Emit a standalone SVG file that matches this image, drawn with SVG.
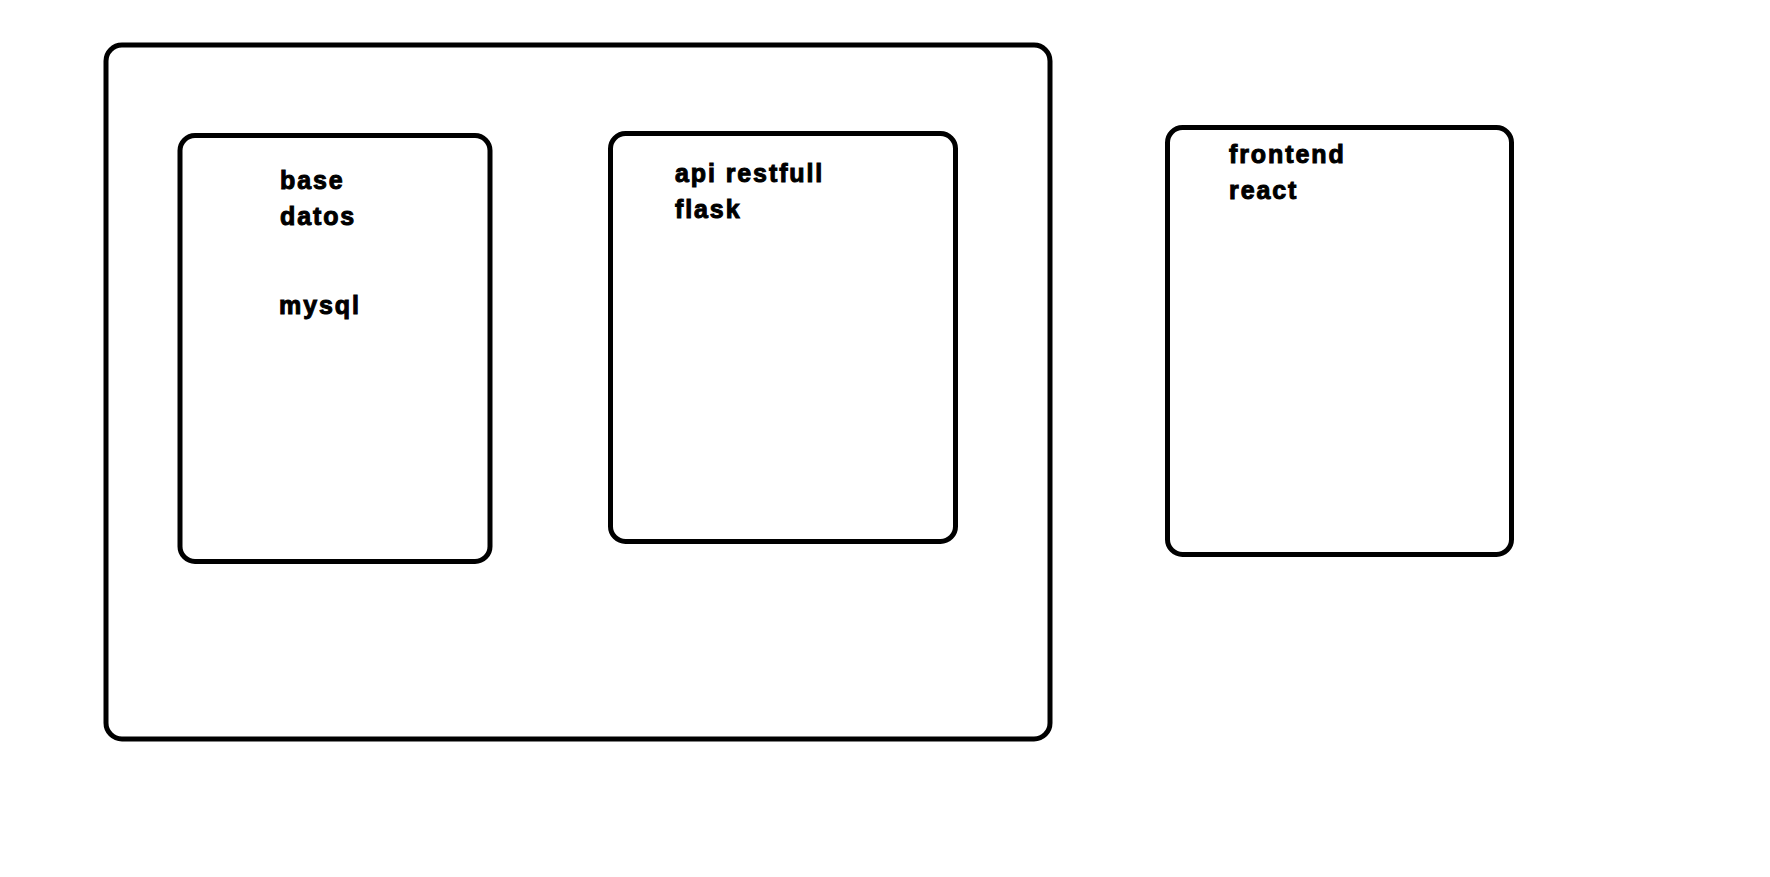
<svg xmlns="http://www.w3.org/2000/svg" width="1770" height="877" viewBox="0 0 1770 877">
<style>
.box{fill:none;stroke:#000;stroke-width:5}
.t{font-family:"Liberation Sans",Arial,sans-serif;font-weight:bold;font-size:25px;letter-spacing:1.9px;fill:#000;stroke:#000;stroke-width:1px}
</style>
<rect width="1770" height="877" fill="#fff"/>
<g id="backend">
<rect class="box" x="106" y="45" width="944" height="694" rx="16"/>
</g>
<g id="db">
<rect class="box" x="180" y="135.5" width="310" height="426" rx="15"/>
<text class="t" x="280" y="189">base</text>
<text class="t" x="280" y="225">datos</text>
<text class="t" x="279" y="314">mysql</text>
</g>
<g id="api">
<rect class="box" x="610.5" y="133.5" width="345" height="408" rx="15"/>
<text class="t" x="675" y="182">api restfull</text>
<text class="t" x="675" y="218">flask</text>
</g>
<g id="frontend">
<rect class="box" x="1167.5" y="127.5" width="344" height="427" rx="15"/>
<text class="t" x="1229" y="163">frontend</text>
<text class="t" x="1229" y="199">react</text>
</g>
<g id="connectors"></g>
</svg>
